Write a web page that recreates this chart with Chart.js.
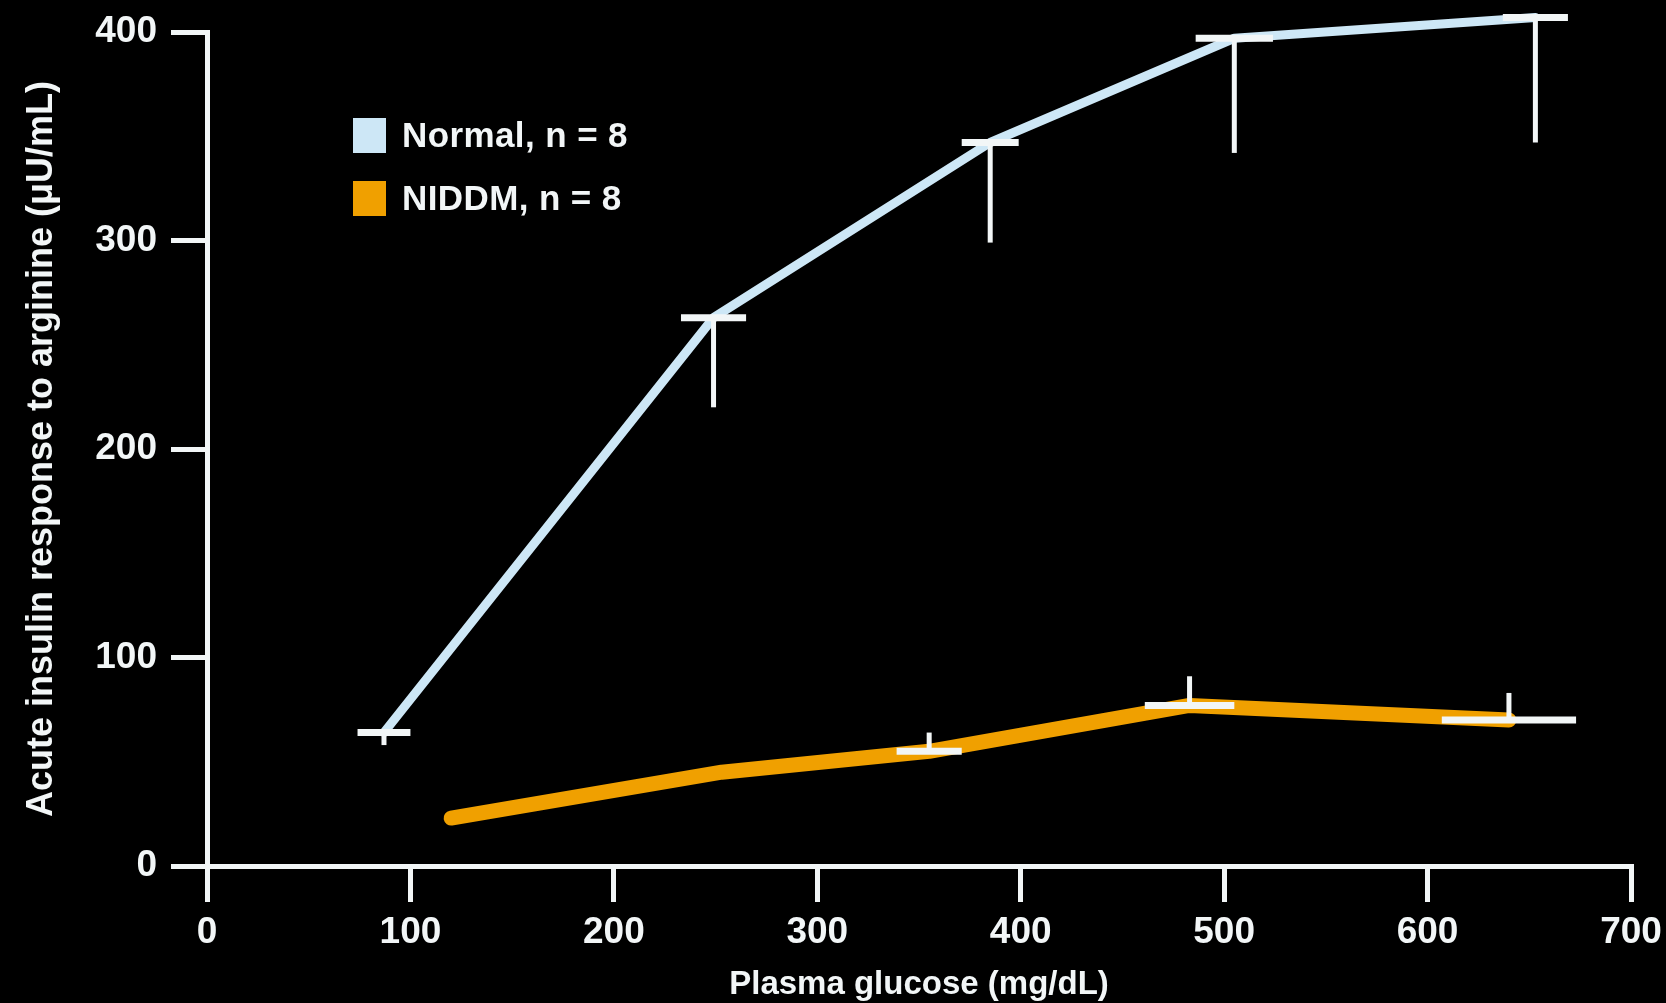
<!DOCTYPE html>
<html>
<head>
<meta charset="utf-8">
<script src="https://cdn.jsdelivr.net/npm/chart.js@4.4.1/dist/chart.umd.min.js"></script>
<style>
  html, body { margin: 0; padding: 0; background: #000; }
  .wrap { position: relative; width: 1666px; height: 1003px; background: #000; }
  .legend { position: absolute; left: 353px; top: 117px; font-family: "Liberation Sans", Arial, sans-serif; font-weight: bold; font-size: 35px; color: #f2f6f7; }
  .legend .item { display: flex; align-items: center; height: 36px; margin-bottom: 27px; }
  .legend .box { width: 33px; height: 35px; margin-right: 16px; }
  .legend .txt { letter-spacing: 0.4px; }
</style>
</head>
<body>
<div class="wrap">
  <canvas id="chart"></canvas>
  <div class="legend" id="legend"></div>
</div>
<script>
// glucose (x) and insulin response (y)
const normalGlucose = [87, 249, 385, 505, 653];
const normalInsulin = [64, 263, 347, 397, 407];
const normalGlucoseErr = [13, 16, 14, 19, 16];
const normalInsulinErr = [-6, -43, -48, -55, -60];   // drawn downward

const niddmGlucose = [120, 253, 355, 483, 640];
const niddmInsulin = [23, 45, 55, 77, 70];
const niddmGlucoseErr = [null, null, 16, 22, 33];
const niddmInsulinErr = [null, null, 9, 14, 13];      // drawn upward

const seriesLabels = ['Normal, n = 8', 'NIDDM, n = 8'];
const seriesColors = ['#cde7f6', '#f0a000'];

const xTicks = [0, 100, 200, 300, 400, 500, 600, 700];
const yTicks = [0, 100, 200, 300, 400];

const white = '#f2f6f7';
const font = 'Liberation Sans, Arial, sans-serif';

const toPoints = (xs, ys) => xs.map((v, i) => ({ x: v, y: ys[i] }));

const errSets = [
  { xs: normalGlucose, ys: normalInsulin, xe: normalGlucoseErr, ye: normalInsulinErr },
  { xs: niddmGlucose, ys: niddmInsulin, xe: niddmGlucoseErr, ye: niddmInsulinErr }
];

const errorBars = {
  id: 'errorBars',
  afterDatasetsDraw(chart) {
    const { ctx, scales: { x, y } } = chart;
    ctx.save();
    ctx.strokeStyle = white;
    ctx.lineCap = 'butt';
    errSets.forEach(s => {
      s.xs.forEach((gx, i) => {
        const px = x.getPixelForValue(gx);
        const py = y.getPixelForValue(s.ys[i]);
        if (s.ye[i] != null) {
          ctx.lineWidth = 5;
          ctx.beginPath();
          ctx.moveTo(px, py);
          ctx.lineTo(px, y.getPixelForValue(s.ys[i] + s.ye[i]));
          ctx.stroke();
        }
        if (s.xe[i] != null) {
          ctx.lineWidth = 7;
          ctx.beginPath();
          ctx.moveTo(x.getPixelForValue(gx - s.xe[i]), py);
          ctx.lineTo(x.getPixelForValue(gx + s.xe[i]), py);
          ctx.stroke();
        }
      });
    });
    ctx.restore();
  }
};

const chart = new Chart(document.getElementById('chart'), {
  type: 'line',
  data: {
    datasets: [
      {
        label: seriesLabels[0],
        data: toPoints(normalGlucose, normalInsulin),
        borderColor: seriesColors[0],
        backgroundColor: seriesColors[0],
        borderWidth: 9,
        pointRadius: 0,
        borderCapStyle: 'round',
        borderJoinStyle: 'round',
        clip: false
      },
      {
        label: seriesLabels[1],
        data: toPoints(niddmGlucose, niddmInsulin),
        borderColor: seriesColors[1],
        backgroundColor: seriesColors[1],
        borderWidth: 15,
        pointRadius: 0,
        borderCapStyle: 'round',
        borderJoinStyle: 'round',
        clip: false
      }
    ]
  },
  options: {
    responsive: true,
    maintainAspectRatio: false,
    animation: false,
    layout: { padding: { top: 32, right: 35, bottom: 0, left: 0 } },
    plugins: {
      legend: { display: false },
      tooltip: { enabled: false }
    },
    scales: {
      x: {
        type: 'linear',
        min: 0,
        max: 700,
        afterBuildTicks: s => { s.ticks = xTicks.map(v => ({ value: v })); },
        afterFit: s => { s.height = 137; s.paddingLeft = 0; s.paddingRight = 0; },
        grid: { drawOnChartArea: false, color: white, lineWidth: 5, tickLength: 36 },
        border: { display: true, color: white, width: 5 },
        ticks: { color: white, padding: 9, font: { family: font, size: 37, weight: 'bold' }, maxRotation: 0 },
        title: {
          display: true,
          text: 'Plasma glucose (mg/dL)',
          color: white,
          padding: { top: 0, bottom: -2 },
          font: { family: font, size: 33, weight: 'bold' }
        }
      },
      y: {
        type: 'linear',
        min: 0,
        max: 400,
        afterBuildTicks: s => { s.ticks = yTicks.map(v => ({ value: v })); },
        afterFit: s => { s.width = 207; s.paddingTop = 0; s.paddingBottom = 0; },
        grid: { drawOnChartArea: false, color: white, lineWidth: 5, tickLength: 36 },
        border: { display: true, color: white, width: 5 },
        ticks: { color: white, padding: 14, font: { family: font, size: 37, weight: 'bold' } },
        title: {
          display: true,
          text: 'Acute insulin response to arginine (\u03bcU/mL)',
          color: white,
          padding: { top: 20, bottom: 0 },
          font: { family: font, size: 36, weight: 'bold' }
        }
      }
    }
  },
  plugins: [errorBars]
});

// legend built from the datasets
const legend = document.getElementById('legend');
chart.data.datasets.forEach(ds => {
  const item = document.createElement('div');
  item.className = 'item';
  const box = document.createElement('span');
  box.className = 'box';
  box.style.background = ds.borderColor;
  const txt = document.createElement('span');
  txt.className = 'txt';
  txt.textContent = ds.label;
  item.appendChild(box);
  item.appendChild(txt);
  legend.appendChild(item);
});
</script>
</body>
</html>
